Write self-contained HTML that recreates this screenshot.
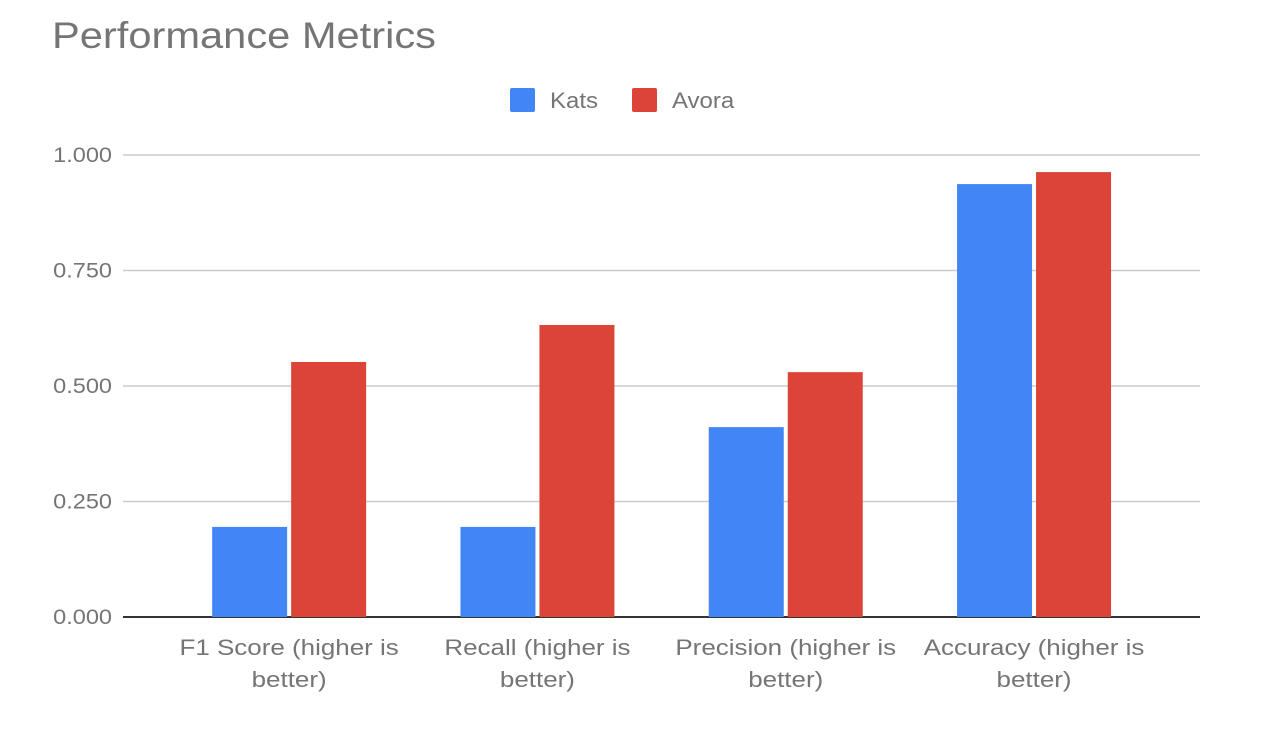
<!DOCTYPE html>
<html><head><meta charset="utf-8"><style>
body{margin:0;background:#fff;width:1270px;height:728px;overflow:hidden;font-family:"Liberation Sans",sans-serif;}
svg text{font-family:"Liberation Sans",sans-serif;fill:#757575;}
</style></head><body>
<svg id="chart" width="1270" height="728" xmlns="http://www.w3.org/2000/svg">
<text class="sc" data-k="1.125" x="52" y="48" font-size="37">Performance Metrics</text>
<g>
<rect x="510" y="88" width="25" height="24" rx="2" fill="#4285f4"/>
<text class="sc" data-k="1.09" x="550" y="108" font-size="22">Kats</text>
<rect x="632" y="88" width="25" height="24" rx="2" fill="#db4437"/>
<text class="sc" data-k="1.09" x="672" y="108" font-size="22">Avora</text>
</g>
<g id="grid"></g><g id="bars"></g><g id="xlabels"></g>
</svg>
<script>
const categories=[["F1 Score (higher is","better)"],["Recall (higher is","better)"],["Precision (higher is","better)"],["Accuracy (higher is","better)"]];
const katsValues=[0.195,0.195,0.411,0.937];
const avoraValues=[0.552,0.632,0.530,0.963];
const yTicks=[0,0.25,0.5,0.75,1];
const yTickLabels=["0.000","0.250","0.500","0.750","1.000"];
const NS="http://www.w3.org/2000/svg";
const y0=617,yH=462,plotL=123,plotR=1200,bandStart=165,bandStep=248.3,barW=75,gap=4;
const yScale=v=>y0-v*yH;
const xCenter=i=>bandStart+bandStep*(i+0.5);
function mk(tag,attrs,parent){const e=document.createElementNS(NS,tag);for(const k in attrs)e.setAttribute(k,attrs[k]);parent.appendChild(e);return e;}
const grid=document.getElementById('grid');
yTicks.forEach((t,i)=>{
 const y=yScale(t);
 const l=mk('line',{x1:plotL,x2:plotR,y1:y,y2:y,stroke:i===0?'#333':'#ccc','stroke-width':i===0?2:1.5},grid);
 
 
 const tx=mk('text',{x:112,y:y+7,'text-anchor':'end','font-size':21,'class':'sc','data-k':1.12},grid);
 tx.textContent=yTickLabels[i];
 
 
});
const bars=document.getElementById('bars');
categories.forEach((c,i)=>{
 const cx=xCenter(i);
 const k=mk('rect',{x:cx-gap/2-barW,y:yScale(katsValues[i]),width:barW,height:katsValues[i]*yH,fill:'#4285f4'},bars);
 
 
 const a=mk('rect',{x:cx+gap/2,y:yScale(avoraValues[i]),width:barW,height:avoraValues[i]*yH,fill:'#db4437'},bars);
 
 
 const xl=document.getElementById('xlabels');
 c.forEach((line,j)=>{
  const t=mk('text',{x:cx,y:655+j*32,'text-anchor':'middle','font-size':22,'class':'sc','data-k':1.18},xl);
  t.textContent=line;
  
  
 });
});
document.querySelectorAll('text.sc').forEach(t=>{
 const w=t.getComputedTextLength()*parseFloat(t.getAttribute('data-k'));
 t.setAttribute('textLength',w);
 t.setAttribute('lengthAdjust','spacingAndGlyphs');
});
</script>
</body></html>
